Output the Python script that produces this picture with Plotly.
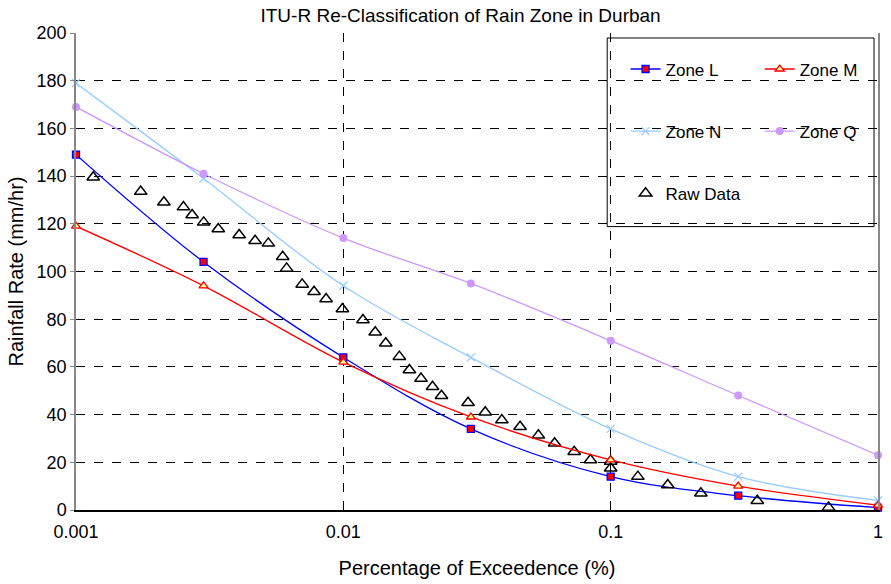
import plotly.graph_objects as go

# ITU-R zone curves
pct = [0.001, 0.003, 0.01, 0.03, 0.1, 0.3, 1]
zone_L = [149, 104, 64, 34, 14, 6, 1]
zone_M = [119, 94, 62, 39, 21, 10, 2]
zone_N = [179, 139, 94, 64, 34, 14, 4]
zone_Q = [169, 141, 114, 95, 71, 48, 23]

# Raw Durban data
raw_pct = [0.00116, 0.001746, 0.002132, 0.002523, 0.002719, 0.003003, 0.003406,
           0.004077, 0.004677, 0.005242, 0.005932, 0.006137, 0.007016, 0.00777,
           0.008618, 0.00992, 0.01184, 0.01316, 0.01441, 0.0162, 0.01766, 0.01952,
           0.02156, 0.02329, 0.02928, 0.03395, 0.03917, 0.04583, 0.05365, 0.06171,
           0.07304, 0.08402, 0.1, 0.1, 0.1264, 0.1635, 0.2175, 0.3536, 0.6531]
raw_rate = [139.5, 133.5, 129, 127, 123.7, 120.6, 117.8, 115.3, 112.9, 111.8,
            106.2, 101.3, 94.6, 91.5, 88.5, 84.3, 79.7, 74.5, 69.9, 64.3, 58.7,
            55.1, 51.7, 47.9, 45, 41, 37.7, 34.9, 31.3, 28, 24.4, 21, 20.3, 17.5,
            14, 10.5, 7, 3.9, 1.1]

x_ticks = [0.001, 0.01, 0.1, 1]
x_ticktext = ["0.001", "0.01", "0.1", "1"]

FONT = "Liberation Sans, Arial, sans-serif"

fig = go.Figure()

fig.add_trace(go.Scatter(
    x=pct, y=zone_L, name="Zone L", mode="lines+markers",
    line=dict(color="#0000FF", width=1.3, shape="spline", smoothing=1),
    marker=dict(symbol="square", size=7, color="#FF0000", line=dict(color="#0000FF", width=1.3)),
    cliponaxis=False, legend="legend", legendgroup="a"))
fig.add_trace(go.Scatter(
    x=pct, y=zone_N, name="Zone N", mode="lines+markers",
    line=dict(color="#99CCFF", width=1.3, shape="spline", smoothing=1),
    marker=dict(symbol="x-thin", size=8, color="#99CCFF", line=dict(color="#99CCFF", width=1.3)),
    cliponaxis=False, legend="legend", legendgroup="b"))
fig.add_trace(go.Scatter(
    x=raw_pct, y=raw_rate, name="Raw Data", mode="markers",
    marker=dict(symbol="triangle-up-open", size=11, color="#000000", line=dict(color="#000000", width=1.5)),
    cliponaxis=False, legend="legend", legendgroup="c"))
fig.add_trace(go.Scatter(
    x=pct, y=zone_M, name="Zone M", mode="lines+markers",
    line=dict(color="#FF0000", width=1.3, shape="spline", smoothing=1),
    marker=dict(symbol="triangle-up", size=8, color="#FFFF99", line=dict(color="#FF0000", width=1.3)),
    cliponaxis=False, legend="legend2", legendgroup="d"))
fig.add_trace(go.Scatter(
    x=pct, y=zone_Q, name="Zone Q", mode="lines+markers",
    line=dict(color="#CC99FF", width=1.3, shape="spline", smoothing=1),
    marker=dict(symbol="circle", size=8, color="#CC99FF"),
    cliponaxis=False, legend="legend2", legendgroup="e"))

# figure placed at the page origin (body margin removed below)
W, H = 891, 584
PL, PR, PT, PB = 76, 883, 33, 511          # plot area in pixels
L, R, T, B = PL, W - PR, PT, H - PB
pw, ph = PR - PL, PB - PT

def px(xp):
    return (xp - PL) / pw

def py(yp):
    return (PB - yp) / ph

legend_common = dict(
    bgcolor="rgba(0,0,0,0)", borderwidth=0,
    font=dict(family=FONT, size=17, color="#000000"),
    tracegroupgap=37, xanchor="left", yanchor="top",
    itemwidth=30,
)

fig.update_layout(
    width=W, height=H,
    margin=dict(l=L, r=R, t=T, b=B),
    paper_bgcolor="white", plot_bgcolor="white",
    font=dict(family=FONT, size=18, color="#000000"),
    title=dict(text="ITU-R Re-Classification of Rain Zone in Durban",
               x=px(463), xref="paper", xanchor="center",
               y=1 - 15 / H, yref="container", yanchor="middle",
               font=dict(family=FONT, size=19, color="#000000")),
    legend=dict(x=px(629), y=py(51.5), **legend_common),
    legend2=dict(x=px(764), y=py(51.5), **legend_common),
    shapes=[dict(type="rect", xref="paper", yref="paper",
                 x0=px(610.5), x1=px(879), y0=py(227), y1=py(38),
                 line=dict(color="#000000", width=1), fillcolor="white",
                 layer="below")],
    xaxis=dict(
        type="log", range=[-3, 0],
        tickvals=x_ticks, ticktext=x_ticktext,
        showgrid=True, gridcolor="#000000", griddash="dash", gridwidth=1,
        showline=True, linecolor="#000000", linewidth=1.5,
        ticks="", zeroline=False, ticklabelstandoff=5,
        tickfont=dict(family=FONT, size=18),
        title=dict(text="Percentage of Exceedence (%)",
                   font=dict(family=FONT, size=20), standoff=20),
    ),
    yaxis=dict(
        range=[0, 200], dtick=20,
        showgrid=True, gridcolor="#000000", griddash="dash", gridwidth=1,
        showline=True, linecolor="#888888", linewidth=1.5, mirror=True,
        ticks="outside", ticklen=4, tickcolor="#888888",
        zeroline=False,
        tickfont=dict(family=FONT, size=18),
        title=dict(text="Rainfall Rate (mm/hr)",
                   font=dict(family=FONT, size=20), standoff=8),
    ),
)

fig.write_html("out.html",
               config={"displayModeBar": False},
               post_script="document.body.style.margin='0';document.body.style.overflow='hidden';")
